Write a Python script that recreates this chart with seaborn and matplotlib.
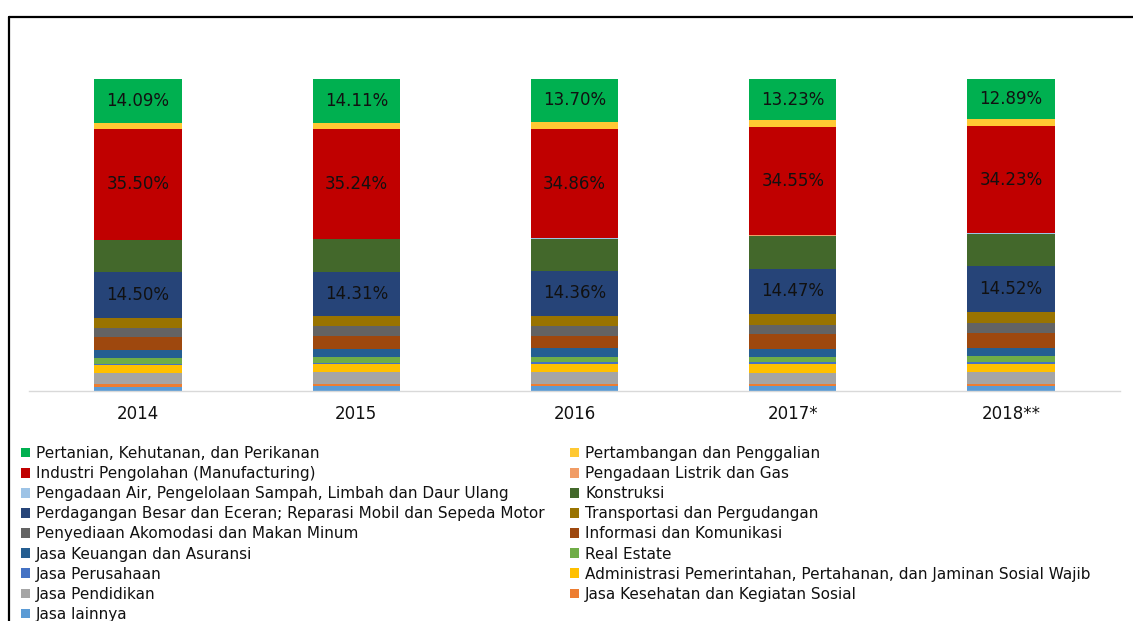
import numpy as np
import matplotlib
matplotlib.use("Agg")
import matplotlib.pyplot as plt
from matplotlib.lines import Line2D
from matplotlib.patches import Patch
import seaborn as sns

years = ["2014", "2015", "2016", "2017*", "2018**"]

sectors = [
    "Pertanian, Kehutanan, dan Perikanan",
    "Pertambangan dan Penggalian",
    "Industri Pengolahan (Manufacturing)",
    "Pengadaan Listrik dan Gas",
    "Pengadaan Air, Pengelolaan Sampah, Limbah dan Daur Ulang",
    "Konstruksi",
    "Perdagangan Besar dan Eceran; Reparasi Mobil dan Sepeda Motor",
    "Transportasi dan Pergudangan",
    "Penyediaan Akomodasi dan Makan Minum",
    "Informasi dan Komunikasi",
    "Jasa Keuangan dan Asuransi",
    "Real Estate",
    "Jasa Perusahaan",
    "Administrasi Pemerintahan, Pertahanan, dan Jaminan Sosial Wajib",
    "Jasa Pendidikan",
    "Jasa Kesehatan dan Kegiatan Sosial",
    "Jasa lainnya",
]

pertanian = [14.09, 14.11, 13.70, 13.23, 12.89]
pertambangan = [1.90, 1.80, 2.30, 2.20, 2.30]
industri = [35.50, 35.24, 34.86, 34.55, 34.23]
listrik = [0.10, 0.10, 0.10, 0.10, 0.10]
air = [0.10, 0.10, 0.10, 0.10, 0.10]
konstruksi = [10.30, 10.40, 10.30, 10.45, 10.50]
perdagangan = [14.50, 14.31, 14.36, 14.47, 14.52]
transportasi = [3.20, 3.20, 3.30, 3.50, 3.50]
akomodasi = [3.10, 3.10, 3.10, 3.10, 3.20]
informasi = [3.90, 4.30, 4.10, 4.60, 4.80]
keuangan = [2.60, 2.50, 2.70, 2.70, 2.70]
real_estate = [1.90, 1.85, 1.70, 1.70, 1.80]
perusahaan = [0.40, 0.45, 0.50, 0.50, 0.60]
administrasi = [2.50, 2.55, 2.70, 2.80, 2.70]
pendidikan = [3.60, 3.60, 3.70, 3.50, 3.70]
kesehatan = [0.85, 0.85, 0.85, 0.85, 0.85]
lainnya = [1.40, 1.50, 1.50, 1.50, 1.50]

values = [pertanian, pertambangan, industri, listrik, air, konstruksi,
          perdagangan, transportasi, akomodasi, informasi, keuangan,
          real_estate, perusahaan, administrasi, pendidikan, kesehatan, lainnya]

colors = ["#00B050", "#FFC933", "#C00000", "#F19C65", "#9DC3E6", "#43682B",
          "#264478", "#997300", "#636363", "#9E480E", "#255E91", "#70AD47",
          "#4472C4", "#FFC000", "#A5A5A5", "#ED7D31", "#5B9BD5"]

labelled = {0, 2, 6}

sns.set_style("white")
plt.rcParams["font.family"] = ["DejaVu Sans"]

W, H = 1133, 621
fig = plt.figure(figsize=(W / 100, H / 100), dpi=100)
fig.patch.set_facecolor("white")
ax = fig.add_axes([29 / W, 1 - 391 / H, (1120 - 29) / W, (391 - 78.7) / H])

# stack from bottom (last sector) to top (first sector)
bottom = np.zeros(len(years))
centers = {}
for idx in range(len(sectors) - 1, -1, -1):
    vals = np.array(values[idx], dtype=float)
    sns.barplot(x=years, y=vals, bottom=bottom, color=colors[idx], width=0.4,
                saturation=1, linewidth=0, ax=ax, errorbar=None)
    centers[idx] = bottom + vals / 2
    bottom = bottom + vals

for idx in labelled:
    for i, v in enumerate(values[idx]):
        ax.text(i, centers[idx][i], f"{v:.2f}%", ha="center", va="center",
                fontsize=12, color="#111111")

ax.set_ylim(0, 100)
ax.set_xlim(-0.5, len(years) - 0.5)
ax.set_ylabel("")
ax.set_xlabel("")
ax.set_yticks([])
for s in ["top", "right", "left"]:
    ax.spines[s].set_visible(False)
ax.spines["bottom"].set_color("#d9d9d9")
ax.spines["bottom"].set_linewidth(1)
ax.tick_params(axis="x", length=0, pad=10, labelsize=12, labelcolor="#111111")
ax.set_facecolor("none")

# legend: row-major order in two columns
left_items = list(range(0, len(sectors), 2))
right_items = list(range(1, len(sectors), 2))

def make_legend(items, x_px):
    handles = [Patch(facecolor=colors[i], edgecolor="none") for i in items]
    labels = [sectors[i] for i in items]
    leg = fig.legend(handles, labels, loc="upper left",
                     bbox_to_anchor=(x_px / W, 1 - 446 / H),
                     frameon=False, fontsize=11, borderpad=0, borderaxespad=0,
                     handlelength=0.6, handleheight=0.6, handletextpad=0.4,
                     labelspacing=0.335)
    for t in leg.get_texts():
        t.set_color("#111111")
    return leg

make_legend(left_items, 21)
make_legend(right_items, 570)

# frame border (top and left)
fig.add_artist(Line2D([8.5 / W, 8.5 / W], [0, 1 - 16.5 / H], color="black",
                      linewidth=1.6, transform=fig.transFigure))
fig.add_artist(Line2D([8.5 / W, 1], [1 - 16.5 / H, 1 - 16.5 / H], color="black",
                      linewidth=1.6, transform=fig.transFigure))

fig.savefig("out.png", dpi=100, facecolor="white")
